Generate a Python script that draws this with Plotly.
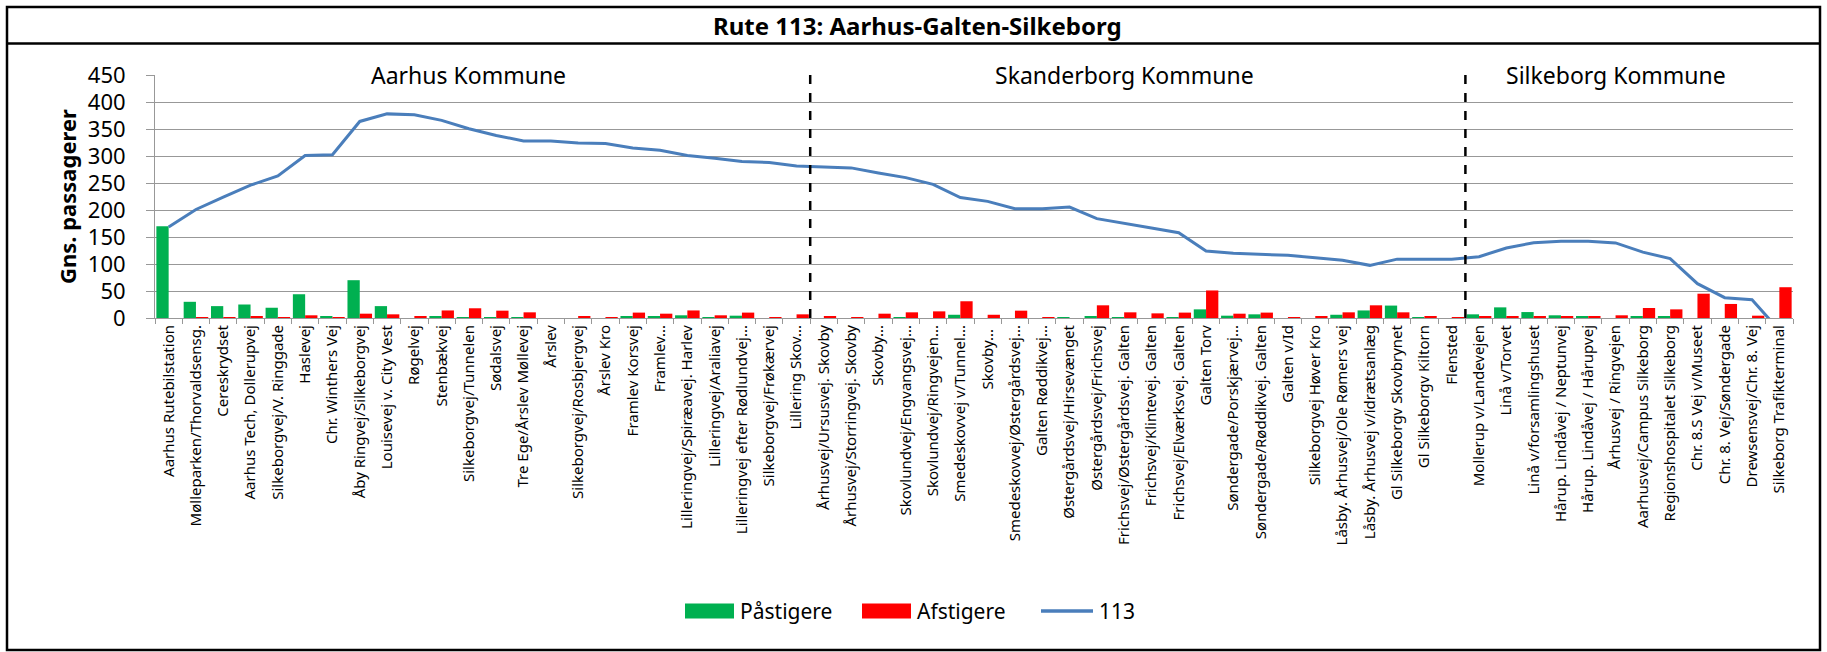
import plotly.graph_objects as go

stops = [
    "Aarhus Rutebilstation", "Mølleparken/Thorvaldsensg.", "Cereskrydset",
    "Aarhus Tech, Dollerupvej", "Silkeborgvej/V. Ringgade", "Haslevej",
    "Chr. Winthers Vej", "Åby Ringvej/Silkeborgvej", "Louisevej v. City Vest",
    "Røgelvej", "Stenbækvej", "Silkeborgvej/Tunnelen", "Sødalsvej",
    "Tre Ege/Årslev Møllevej", "Årslev", "Silkeborgvej/Rosbjergvej", "Årslev Kro",
    "Framlev Korsvej", "Framlev...", "Lilleringvej/Spiræavej. Harlev",
    "Lilleringvej/Araliavej", "Lilleringvej efter Rødlundvej...",
    "Silkeborgvej/Frøkærvej", "Lillering Skov...", "Århusvej/Ursusvej. Skovby",
    "Århusvej/Storringvej. Skovby", "Skovby...", "Skovlundvej/Engvangsvej...",
    "Skovlundvej/Ringvejen...", "Smedeskovvej v/Tunnel...", "Skovby... ",
    "Smedeskovvej/Østergårdsvej...", "Galten Røddikvej...",
    "Østergårdsvej/Hirsevænget", "Østergårdsvej/Frichsvej",
    "Frichsvej/Østergårdsvej. Galten", "Frichsvej/Klintevej. Galten",
    "Frichsvej/Elværksvej. Galten", "Galten Torv", "Søndergade/Porskjærvej...",
    "Søndergade/Røddikvej. Galten", "Galten v/Id", "Silkeborgvej Høver Kro",
    "Låsby. Århusvej/Ole Rømers vej", "Låsby. Århusvej v/idrætsanlæg",
    "Gl Silkeborgv Skovbrynet", "Gl Silkeborgv Kiltorn", "Flensted",
    "Mollerup v/Landevejen", "Linå v/Torvet", "Linå v/forsamlingshuset",
    "Hårup. Lindåvej / Neptunvej", "Hårup. Lindåvej / Hårupvej",
    "Århusvej / Ringvejen", "Aarhusvej/Campus Silkeborg",
    "Regionshospitalet Silkeborg", "Chr. 8.S Vej v/Museet",
    "Chr. 8. Vej/Søndergade", "Drewsensvej/Chr. 8. Vej",
    "Silkeborg Trafikterminal",
]

paastigere = [
    170, 30, 22, 25, 19, 44, 2, 70, 22, 0,
    3, 1, 1, 0.6, 0, 0, 0, 3, 3.7, 5,
    1, 4.3, 0, 0, 0, 0, 0, 1, 0, 6,
    0, 0, 0, 1, 3.7, 1, 0, 1, 16, 4.3,
    6.8, 0, 0, 6, 14, 23, 1, 0, 6.8, 19.7,
    11, 5, 2, 0, 2, 3.7, 0, 0, 0, 0,
]

afstigere = [
    0, 1, 1, 2.5, 1, 5, 1, 8, 6.8, 2,
    14, 18, 13.6, 10.5, 0, 3, 1, 10, 8, 14,
    5, 10, 1, 6.8, 3, 1, 8, 10.5, 12.3, 31,
    6, 13.6, 1, 0, 23.5, 10.5, 8.6, 10, 51, 8,
    10, 1, 3.7, 10.5, 23.5, 10.5, 2.5, 1, 2.5, 3.7,
    2, 2.5, 2, 5, 18.5, 16, 45, 26, 4.3, 57,
]

load_113 = [
    168.5, 201, 224, 246, 263, 301, 302.5, 364, 378, 376.5,
    366, 350.6, 338, 328, 328, 324, 323, 315, 310.5, 301,
    296, 290, 288, 281.5, 279.6, 278, 268.5, 260, 247.5, 223,
    216, 202.5, 202.5, 205.5, 184, 176, 166.7, 158, 124, 120,
    118, 116, 111.7, 106.8, 97.5, 109, 109, 108.6, 113.6, 129.6,
    139.5, 142, 142, 139, 122, 110, 63.6, 37.6, 34, -23,
]

series_names = ["Påstigere", "Afstigere", "113"]
series_colors = ["#00B050", "#FF0000", "#4A7EBB"]

kommuner = ["Aarhus Kommune", "Skanderborg Kommune", "Silkeborg Kommune"]
kommune_centers = [11, 35, 53]
boundaries = [23.5, 47.5]

FONT = "Noto Sans"
GRID = "#989898"

fig = go.Figure()
fig.add_trace(go.Bar(x=stops, y=paastigere, name=series_names[0],
                     marker=dict(color=series_colors[0], line=dict(width=0)),
                     showlegend=False))
fig.add_trace(go.Bar(x=stops, y=afstigere, name=series_names[1],
                     marker=dict(color=series_colors[1], line=dict(width=0)),
                     showlegend=False))
fig.add_trace(go.Scatter(x=stops, y=load_113, name=series_names[2], mode="lines",
                         line=dict(color=series_colors[2], width=3),
                         showlegend=False))

L, R, T, B = 155, 34, 75, 334
W, H = 1827, 652
pw, ph = W - L - R, H - T - B

def px2x(px):
    return (px - L) / pw

def py2y(py):
    return (H - B - py) / ph

shapes = []
for b in boundaries:
    shapes.append(dict(type="line", xref="x", yref="y", x0=b, x1=b, y0=0, y1=450,
                       line=dict(color="black", width=2.5, dash="dash")))
# outer frame and title separator
shapes.append(dict(type="rect", xref="paper", yref="paper",
                   x0=px2x(7), x1=px2x(1820), y0=py2y(650), y1=py2y(7),
                   line=dict(color="black", width=2.5), layer="below"))
shapes.append(dict(type="line", xref="paper", yref="paper",
                   x0=px2x(7), x1=px2x(1820), y0=py2y(43.5), y1=py2y(43.5),
                   line=dict(color="black", width=2.5)))

annotations = []
for name, c in zip(kommuner, kommune_centers):
    annotations.append(dict(x=c, y=450, xref="x", yref="y", text=name,
                            showarrow=False, bgcolor="white",
                            font=dict(family=FONT, size=23, color="black"),
                            yanchor="middle", borderpad=2))
annotations.append(dict(x=px2x(917), y=py2y(25.5), xref="paper", yref="paper",
                        text="<b>Rute 113: Aarhus-Galten-Silkeborg</b>",
                        showarrow=False, xanchor="center", yanchor="middle",
                        font=dict(family=FONT, size=24, color="black")))
annotations.append(dict(x=px2x(67), y=py2y(197), xref="paper", yref="paper",
                        text="<b>Gns. passagerer</b>", textangle=-90,
                        showarrow=False, xanchor="center", yanchor="middle",
                        font=dict(family=FONT, size=22, color="black")))

# legend (swatch + label) placed below the chart
leg_y = 611
leg_x = [685, 862, 1041]
sw_w = [49, 49, 52]
for i, (name, col) in enumerate(zip(series_names, series_colors)):
    x0 = leg_x[i]
    x1 = x0 + sw_w[i]
    if i < 2:
        shapes.append(dict(type="rect", xref="paper", yref="paper",
                           x0=px2x(x0), x1=px2x(x1), y0=py2y(leg_y + 7.5),
                           y1=py2y(leg_y - 7.5), fillcolor=col,
                           line=dict(width=0)))
    else:
        shapes.append(dict(type="line", xref="paper", yref="paper",
                           x0=px2x(x0), x1=px2x(x1), y0=py2y(leg_y), y1=py2y(leg_y),
                           line=dict(color=col, width=3.5)))
    annotations.append(dict(x=px2x(x1 + 4), y=py2y(leg_y), xref="paper",
                            yref="paper", text=name, showarrow=False,
                            xanchor="left", yanchor="middle",
                            font=dict(family=FONT, size=21, color="black")))

fig.update_layout(
    width=W, height=H,
    margin=dict(l=L, r=R, t=T, b=B, autoexpand=False),
    paper_bgcolor="white", plot_bgcolor="white",
    barmode="group", bargap=0.1, bargroupgap=0,
    font=dict(family=FONT, color="black"),
    showlegend=False,
    shapes=shapes, annotations=annotations,
)
fig.update_xaxes(
    type="category", tickangle=-90, tickson="boundaries", ticks="outside",
    ticklen=5, tickcolor=GRID, showline=True, linecolor=GRID, linewidth=1,
    showgrid=False, tickfont=dict(family=FONT, size=15, color="black"),
    range=[-0.5, len(stops) - 0.5],
)
fig.update_yaxes(
    range=[0, 450], dtick=50, tick0=0, ticks="outside", ticklen=8,
    tickcolor=GRID, showline=True, linecolor=GRID, linewidth=1,
    showgrid=True, gridcolor=GRID, gridwidth=1, zeroline=False,
    tickfont=dict(family=FONT, size=22, color="black"), ticklabelstandoff=16,
)

fig.write_html("out.html", config={"displayModeBar": False},
               post_script="document.body.style.margin='0';")
